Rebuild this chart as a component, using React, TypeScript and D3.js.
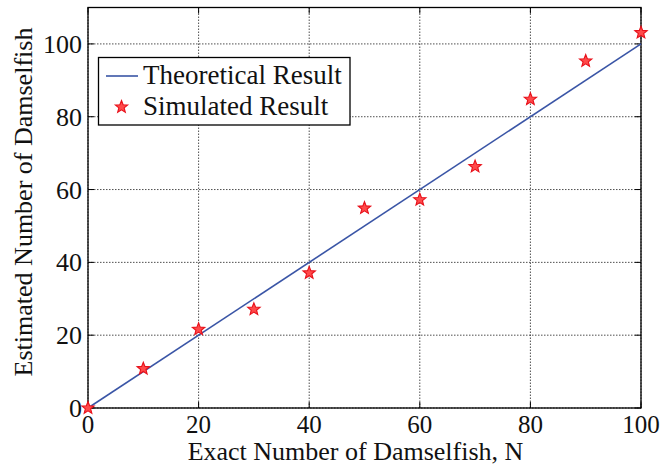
import React from "react";
import * as d3 from "d3";

const xTicks = [0, 20, 40, 60, 80, 100];
const yTicks = [0, 20, 40, 60, 80, 100];
const theoryN = [0, 100];
const simN = [0, 10, 20, 30, 40, 50, 60, 70, 80, 90, 100];
const simEst = [0, 10.8, 21.6, 27.1, 37.1, 54.9, 57.2, 66.3, 84.8, 95.3, 103.1];
const xLabel = "Exact Number of Damselfish, N";
const yLabel = "Estimated Number of Damselfish";
const legendLabels = ["Theoretical Result", "Simulated Result"];

const W = 664, H = 467;
const L = 88, R = 641, T = 7.5, B = 408;
const FONT = "'Liberation Serif', 'Times New Roman', serif";

function starPath(cx: number, cy: number, ro: number, ri: number) {
  const pts: string[] = [];
  for (let i = 0; i < 10; i++) {
    const r = i % 2 === 0 ? ro : ri;
    const a = -Math.PI / 2 + (i * Math.PI) / 5;
    pts.push(`${(cx + r * Math.cos(a)).toFixed(2)},${(cy + r * Math.sin(a)).toFixed(2)}`);
  }
  return "M" + pts.join("L") + "Z";
}

export default function App() {
  const x = d3.scaleLinear().domain([0, 100]).range([L, R]);
  const y = d3.scaleLinear().domain([0, 110]).range([B, T]);
  const line = d3.line<number>().x((d) => x(d)).y((d) => y(d));
  const tl = 6;
  return (
    <svg width={W} height={H} style={{ position: "absolute", left: 0, top: 0, background: "#fff" }}>
      <rect x={0} y={0} width={W} height={H} fill="#fff" />
      {xTicks.map((t) => (
        <line key={"gx" + t} x1={x(t)} x2={x(t)} y1={T} y2={B} stroke="#222" strokeWidth={0.8} strokeDasharray="1.5,1.5" />
      ))}
      {yTicks.map((t) => (
        <line key={"gy" + t} x1={L} x2={R} y1={y(t)} y2={y(t)} stroke="#222" strokeWidth={0.8} strokeDasharray="1.5,1.5" />
      ))}
      {xTicks.map((t) => (
        <g key={"tx" + t}>
          <line x1={x(t)} x2={x(t)} y1={B} y2={B - tl} stroke="#000" strokeWidth={1} />
          <line x1={x(t)} x2={x(t)} y1={T} y2={T + tl} stroke="#000" strokeWidth={1} />
          <text x={x(t)} y={B + 25} textAnchor="middle" fontFamily={FONT} fontSize={25} fill="#111">{t}</text>
        </g>
      ))}
      {yTicks.map((t) => (
        <g key={"ty" + t}>
          <line x1={L} x2={L + tl} y1={y(t)} y2={y(t)} stroke="#000" strokeWidth={1} />
          <line x1={R} x2={R - tl} y1={y(t)} y2={y(t)} stroke="#000" strokeWidth={1} />
          <text x={L - 6} y={y(t) + 9} textAnchor="end" fontFamily={FONT} fontSize={26} fill="#111">{t}</text>
        </g>
      ))}
      <rect x={L} y={T} width={R - L} height={B - T} fill="none" stroke="#000" strokeWidth={1.3} />
      <path d={line(theoryN) || ""} fill="none" stroke="#3a55a6" strokeWidth={1.6} />
      {simN.map((n, i) => (
        <path key={"s" + i} d={starPath(x(n), y(simEst[i]), 6.5, 2.8)} fill="#ff4a4a" stroke="#e8101a" strokeWidth={1.1} strokeLinejoin="miter" />
      ))}
      <rect x={98.5} y={57.5} width={251.5} height={67.5} fill="#fff" stroke="#000" strokeWidth={1.3} />
      <line x1={106} x2={138} y1={76} y2={76} stroke="#3a55a6" strokeWidth={1.6} />
      <text x={143} y={84} fontFamily={FONT} fontSize={27} fill="#111">{legendLabels[0]}</text>
      <path d={starPath(121.5, 107, 6.5, 2.8)} fill="#ff4a4a" stroke="#e8101a" strokeWidth={1.1} />
      <text x={143} y={115} fontFamily={FONT} fontSize={27} fill="#111">{legendLabels[1]}</text>
      <text x={355.5} y={460} textAnchor="middle" fontFamily={FONT} fontSize={26} fill="#111">{xLabel}</text>
      <text transform={`translate(32,202) rotate(-90)`} textAnchor="middle" fontFamily={FONT} fontSize={26} fill="#111">{yLabel}</text>
    </svg>
  );
}
